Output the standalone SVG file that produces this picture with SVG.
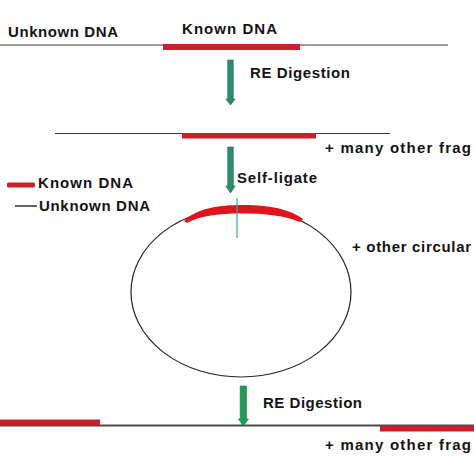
<svg xmlns="http://www.w3.org/2000/svg" width="474" height="474" viewBox="0 0 474 474">
<style>
text{font-family:"Liberation Sans",Arial,sans-serif;font-weight:bold;font-size:15px;fill:#141414}
.dna{stroke:#3a3a3a;stroke-width:1.2;fill:none}
.known{fill:#c8202c}
.arr{fill:#2b8c6c;stroke:#1f6e53;stroke-width:0.6}
.arr2{fill:#1f9a58;stroke:#167a44;stroke-width:0.6}
</style>
<rect width="474" height="474" fill="#ffffff"/>
<g id="legend">
<rect class="known" x="7" y="182.5" width="28" height="5" rx="1.5"/>
<text x="38" y="188" textLength="95" lengthAdjust="spacing">Known DNA</text>
<line x1="15" y1="206" x2="37" y2="206" stroke="#111" stroke-width="1.3"/>
<text x="39" y="211" textLength="111" lengthAdjust="spacing">Unknown DNA</text>
</g>
<g id="genomic">
<line class="dna" x1="0" y1="45" x2="448" y2="45"/>
<rect class="known" x="163" y="44" width="137" height="6"/>
<text x="8" y="36.5" textLength="110" lengthAdjust="spacing">Unknown DNA</text>
<text x="182" y="33.5" textLength="95" lengthAdjust="spacing">Known DNA</text>
</g>
<g id="fragment">
<line class="dna" x1="55" y1="133.5" x2="390" y2="133.5"/>
<rect class="known" x="182" y="133" width="134" height="5.5"/>
<text x="325" y="152.5" textLength="146" lengthAdjust="spacing">+ many other frag</text>
</g>
<g id="circle">
<ellipse cx="241" cy="292" rx="110" ry="85" fill="none" stroke="#222" stroke-width="1.2"/>
<path d="M184,221 C197,208 220,205 241,205 C262,205 287,207 303,219 L300,222 C284,215 262,213.5 241,213.5 C220,213.5 200,215.5 187,223 Z" fill="#e0151c"/>
<line x1="237" y1="198" x2="237" y2="238" stroke="#3c9fc0" stroke-width="1.2"/>
<text x="352" y="251.5" textLength="119" lengthAdjust="spacing">+ other circular</text>
</g>
<g id="linear">
<line x1="0" y1="425.5" x2="474" y2="425.5" stroke="#4a4a4a" stroke-width="2"/>
<rect class="known" x="0" y="419.5" width="100" height="6"/>
<rect class="known" x="380" y="426" width="94" height="5.5"/>
<text x="325" y="449.5" textLength="146" lengthAdjust="spacing">+ many other frag</text>
</g>
<g id="connectors">
<polygon class="arr" points="227.7,60 233.3,60 233.3,99 235.2,99 230.5,105 225.8,99 227.7,99"/>
<text x="250" y="77.5" textLength="100" lengthAdjust="spacing">RE Digestion</text>
<polygon class="arr" points="227.7,147 233.3,147 233.3,186 235.2,186 230.5,193 225.8,186 227.7,186"/>
<text x="237" y="182.5" textLength="80" lengthAdjust="spacing">Self-ligate</text>
<polygon class="arr2" points="240.2,386 246.6,386 246.6,419 248.4,419 243.4,426 238.4,419 240.2,419"/>
<text x="263" y="407.5" textLength="99" lengthAdjust="spacing">RE Digestion</text>
</g>
</svg>
